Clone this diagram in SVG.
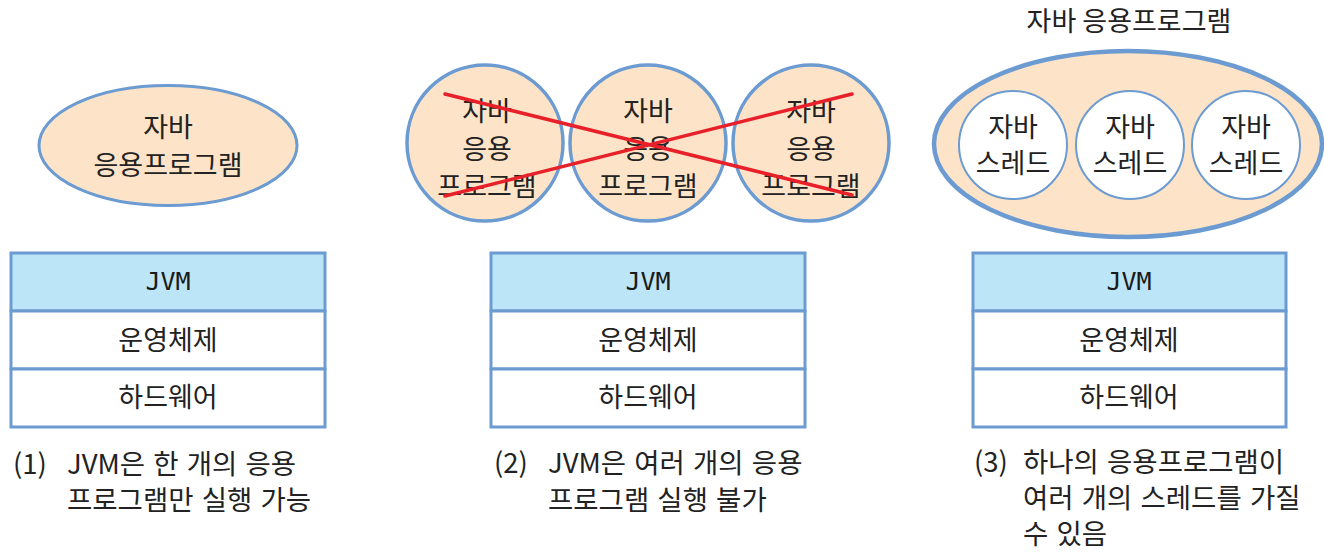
<svg xmlns="http://www.w3.org/2000/svg" width="1324" height="556" viewBox="0 0 1324 556">
<style>
text{font-family:"Noto Sans CJK KR","Noto Sans",sans-serif;font-size:27px;fill:#222;}
.c{text-anchor:middle;}
.cap{font-size:27.5px;word-spacing:2px;}
.mono{font-family:"DejaVu Sans Mono","Liberation Mono",monospace;font-size:25px;fill:#1a1a1a;}
.app{fill:#fde4c8;stroke:#6c9bd2;stroke-width:3.5;}
.thr{fill:#fff;stroke:#6c9bd2;stroke-width:2;}
.row{fill:#fff;stroke:#6c9bd2;stroke-width:3;}
.jvm{fill:#bde5f8;stroke:#6c9bd2;stroke-width:3;}
.x{stroke:#e8202a;stroke-width:3.5;stroke-linecap:round;}
</style>
<rect width="1324" height="556" fill="#fff"/>

<!-- Panel 1 -->
<g id="p1-app">
<ellipse class="app" cx="168" cy="145.5" rx="129" ry="60" style="stroke-width:3"/>
<text class="c" x="168" y="137">자바</text>
<text class="c" x="168" y="175">응용프로그램</text>
</g>
<g id="p1-stack">
<rect class="jvm" x="11" y="253" width="314" height="58"/>
<rect class="row" x="11" y="311" width="314" height="58"/>
<rect class="row" x="11" y="369" width="314" height="58"/>
<text class="c mono" x="168" y="290">JVM</text>
<text class="c" x="168" y="350">운영체제</text>
<text class="c" x="168" y="407">하드웨어</text>
</g>
<g id="p1-caption">
<text class="cap"><tspan x="13" y="474">(1)</tspan><tspan x="67" y="474">JVM은 한 개의 응용</tspan></text>
<text class="cap" x="67" y="510">프로그램만 실행 가능</text>
</g>

<!-- Panel 2 -->
<g id="p2-app1">
<circle class="app" cx="485" cy="143" r="78"/>
<text class="c" x="487" y="121">자바</text>
<text class="c" x="487" y="159">응용</text>
<text class="c" x="487" y="196">프로그램</text>
</g>
<g id="p2-app2">
<circle class="app" cx="648" cy="143" r="78"/>
<text class="c" x="648" y="121">자바</text>
<text class="c" x="648" y="159">응용</text>
<text class="c" x="648" y="196">프로그램</text>
</g>
<g id="p2-app3">
<circle class="app" cx="811" cy="143" r="78"/>
<text class="c" x="811" y="121">자바</text>
<text class="c" x="811" y="159">응용</text>
<text class="c" x="811" y="196">프로그램</text>
</g>
<g id="p2-cross">
<line class="x" x1="445" y1="94" x2="852" y2="195"/>
<line class="x" x1="445" y1="196" x2="852" y2="94"/>
</g>
<g id="p2-stack">
<rect class="jvm" x="491" y="253" width="314" height="58"/>
<rect class="row" x="491" y="311" width="314" height="58"/>
<rect class="row" x="491" y="369" width="314" height="58"/>
<text class="c mono" x="648" y="290">JVM</text>
<text class="c" x="648" y="350">운영체제</text>
<text class="c" x="648" y="407">하드웨어</text>
</g>
<g id="p2-caption">
<text class="cap"><tspan x="494" y="473">(2)</tspan><tspan x="548" y="473">JVM은 여러 개의 응용</tspan></text>
<text class="cap" x="548" y="510">프로그램 실행 불가</text>
</g>

<!-- Panel 3 -->
<g id="p3-app">
<text class="c" x="1129" y="31">자바 응용프로그램</text>
<ellipse class="app" cx="1128" cy="144" rx="194" ry="93" style="stroke-width:4.5"/>
</g>
<g id="p3-thread1">
<circle class="thr" cx="1013" cy="145" r="54"/>
<text class="c" x="1013" y="137">자바</text>
<text class="c" x="1013" y="173">스레드</text>
</g>
<g id="p3-thread2">
<circle class="thr" cx="1130" cy="145" r="54"/>
<text class="c" x="1130" y="137">자바</text>
<text class="c" x="1130" y="173">스레드</text>
</g>
<g id="p3-thread3">
<circle class="thr" cx="1246" cy="145" r="54"/>
<text class="c" x="1246" y="137">자바</text>
<text class="c" x="1246" y="173">스레드</text>
</g>
<g id="p3-stack">
<rect class="jvm" x="973" y="253" width="313" height="58"/>
<rect class="row" x="973" y="311" width="313" height="58"/>
<rect class="row" x="973" y="369" width="313" height="58"/>
<text class="c mono" x="1129" y="290">JVM</text>
<text class="c" x="1129" y="350">운영체제</text>
<text class="c" x="1129" y="407">하드웨어</text>
</g>
<g id="p3-caption">
<text class="cap"><tspan x="974" y="472">(3)</tspan><tspan x="1023" y="472">하나의 응용프로그램이</tspan></text>
<text class="cap" x="1023" y="508">여러 개의 스레드를 가질</text>
<text class="cap" x="1023" y="544">수 있음</text>
</g>
<g id="connectors"></g>
</svg>
